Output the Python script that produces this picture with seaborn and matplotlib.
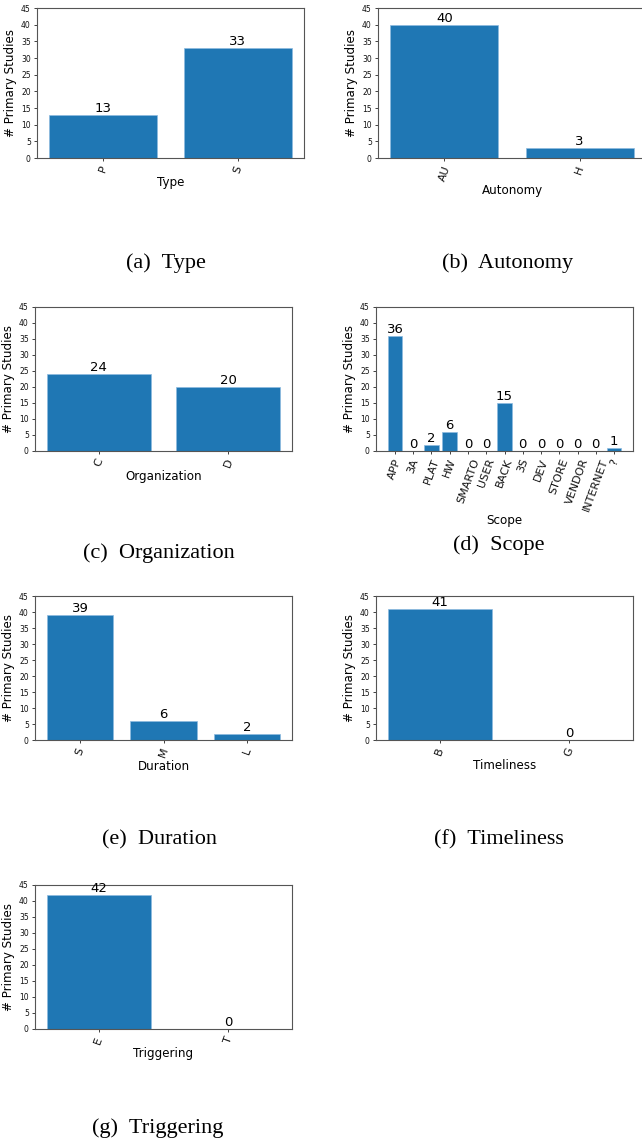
import matplotlib
matplotlib.use("Agg")
import matplotlib.pyplot as plt
import seaborn as sns

# Counts of primary studies per classification dimension
type_cats = ["P", "S"]
type_vals = [13, 33]

autonomy_cats = ["AU", "H"]
autonomy_vals = [40, 3]

organization_cats = ["C", "D"]
organization_vals = [24, 20]

scope_cats = ["APP", "3A", "PLAT", "HW", "SMARTO", "USER", "BACK",
              "3S", "DEV", "STORE", "VENDOR", "INTERNET", "?"]
scope_vals = [36, 0, 2, 6, 0, 0, 15, 0, 0, 0, 0, 0, 1]

duration_cats = ["S", "M", "L"]
duration_vals = [39, 6, 2]

timeliness_cats = ["B", "G"]
timeliness_vals = [41, 0]

triggering_cats = ["E", "T"]
triggering_vals = [42, 0]

y_ticks = list(range(0, 50, 5))

sns.set_style("ticks")
plt.rcParams["font.family"] = ["DejaVu Sans"]
plt.rcParams["text.color"] = "black"
plt.rcParams["axes.labelcolor"] = "black"

W, H = 642, 1144
fig = plt.figure(figsize=(W / 100, H / 100), dpi=100)

BAR = "#1f77b4"
SPINE = "#555555"


def px_rect(left, right, top, bottom):
    return [left / W, 1 - bottom / H, (right - left) / W, (bottom - top) / H]


panels = [
    # (categories, values, xlabel, caption, axes rect px, caption centre px)
    (type_cats, type_vals, "Type", "(a)  Type", (37, 304, 8, 158), (166, 263)),
    (autonomy_cats, autonomy_vals, "Autonomy", "(b)  Autonomy", (378, 646, 8, 158), (508, 263)),
    (organization_cats, organization_vals, "Organization", "(c)  Organization", (35, 292, 307, 451), (159, 553)),
    (scope_cats, scope_vals, "Scope", "(d)  Scope", (376, 633, 307, 451), (499, 545)),
    (duration_cats, duration_vals, "Duration", "(e)  Duration", (35, 292, 596, 740), (159, 840)),
    (timeliness_cats, timeliness_vals, "Timeliness", "(f)  Timeliness", (376, 633, 596, 740), (499, 840)),
    (triggering_cats, triggering_vals, "Triggering", "(g)  Triggering", (35, 292, 885, 1029), (158, 1128)),
]

for cats, vals, xlabel, caption, rect, cap in panels:
    ax = fig.add_axes(px_rect(*rect))
    sns.barplot(x=cats, y=vals, order=cats, ax=ax, color=BAR,
                saturation=1, width=0.8, linewidth=0.5, edgecolor="#8dbbe0")
    n = len(cats)
    pad = 0.05 * (n - 1 + 0.8)
    ax.set_xlim(-0.4 - pad, n - 1 + 0.4 + pad)
    ax.set_ylim(0, 45)
    ax.set_yticks(y_ticks)
    ax.tick_params(axis="y", labelsize=5.5, length=2.5, width=0.6,
                   pad=2, colors="#222222", labelcolor="#111111")
    ax.tick_params(axis="x", labelsize=8, length=2.5, width=0.6,
                   pad=2, colors="#222222", labelcolor="#111111",
                   labelrotation=70)
    ax.set_xlabel(xlabel, fontsize=8.6, labelpad=1)
    ax.set_ylabel("# Primary Studies", fontsize=8.6, labelpad=3)
    for s in ax.spines.values():
        s.set_visible(True)
        s.set_color(SPINE)
        s.set_linewidth(0.8)
    ax.bar_label(ax.containers[0], fmt="%g", fontsize=9.5, padding=0,
                 color="black")
    fig.text(cap[0] / W, 1 - cap[1] / H, caption, ha="center", va="center",
             fontsize=16, color="black",
             family=["Liberation Serif", "DejaVu Serif"])

fig.savefig("out.png", dpi=100)
